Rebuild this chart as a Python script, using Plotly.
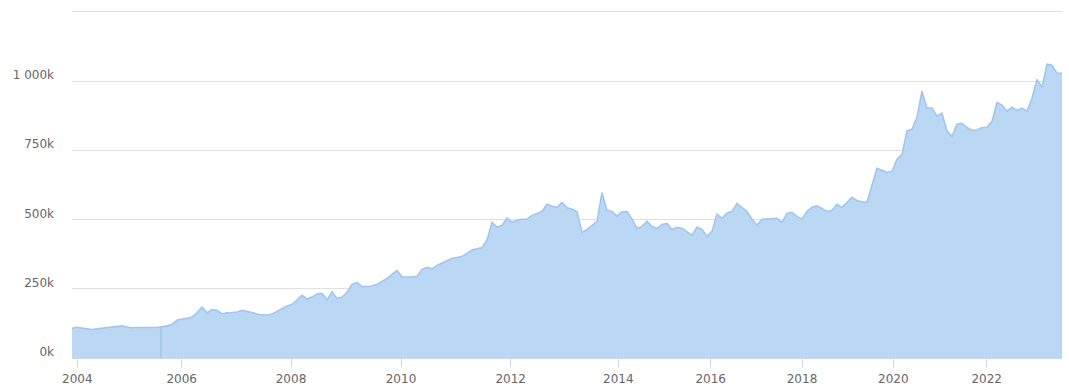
import plotly.graph_objects as go
import numpy as np

# Values (in units) sampled at equal ordinal steps along the series
values_k = [
    107, 111, 108, 106, 103, 105, 107, 108, 110, 112,
    116, 112, 109, 110, 110, 108, 108, 110, 114, 116,
    121, 136, 141, 143, 148, 163, 184, 163, 175, 172,
    159, 163, 164, 166, 172, 169, 164, 159, 155, 155,
    159, 168, 179, 188, 193, 211, 226, 213, 220, 231,
    233, 210, 239, 215, 220, 237, 266, 273, 258, 258,
    260, 266, 276, 287, 302, 316, 293, 293, 292, 295,
    320, 327, 322, 334, 342, 349, 360, 363, 367, 378,
    390, 394, 399, 425, 490, 472, 479, 506, 490, 497,
    501, 501, 515, 522, 529, 555, 548, 544, 562, 542,
    538, 528, 454, 464, 479, 493, 597, 533, 529, 512,
    528, 529, 501, 468, 475, 493, 475, 468, 482, 486,
    464, 472, 468, 457, 443, 473, 464, 439, 457, 519,
    504, 524, 529, 558, 542, 529, 501, 479, 501, 502,
    504, 504, 490, 522, 526, 511, 501, 529, 544, 549,
    540, 529, 533, 555, 544, 562, 580, 569, 564, 562,
    623, 685, 678, 670, 674, 717, 735, 820, 826, 869,
    963, 902, 902, 873, 884, 819, 800, 844, 847, 832,
    822, 822, 832, 833, 855, 923, 913, 891, 905, 894,
    902, 891, 938, 1006, 978, 1061, 1057, 1028, 1028,
]
values = [v * 1000 for v in values_k]

# Ordinal position where each labelled year begins
years = ["2004", "2006", "2008", "2010", "2012", "2014", "2016", "2018", "2020", "2022"]
year_pos = [1.06, 21.94, 43.8, 65.8, 87.74, 109.26, 127.74, 146.0, 164.26, 182.94]

# A single zero-valued observation (drawn as a thin drop line)
zero_pos = 17.8

y_ticks = [0, 250000, 500000, 750000, 1000000, 1250000]
y_labels = ["0k", "250k", "500k", "750k", "1 000k", ""]

xs = np.arange(len(values))

fill_col = "#bad7f3"
line_col = "#a2c6ee"

fig = go.Figure()
fig.add_trace(go.Scatter(
    x=xs, y=values, mode="lines", fill="tozeroy",
    fillcolor=fill_col, line=dict(color=line_col, width=1.6),
    hoverinfo="skip", showlegend=False,
))
zv = float(np.interp(zero_pos, xs, values))
fig.add_trace(go.Scatter(
    x=[zero_pos, zero_pos], y=[0, zv], mode="lines",
    line=dict(color=line_col, width=1.6), hoverinfo="skip", showlegend=False,
))

fig.update_layout(
    width=1069, height=387,
    margin=dict(l=72, r=7, t=9, b=29, autoexpand=False),
    paper_bgcolor="white", plot_bgcolor="white",
    font=dict(family="DejaVu Sans", size=12, color="#666666"),
    xaxis=dict(
        range=[0, len(values) - 1], tickvals=year_pos, ticktext=years,
        showgrid=False, zeroline=False, ticks="outside", ticklen=8,
        tickcolor="#ccd6eb", tickwidth=1, showline=True, linecolor="#ccd6eb",
        ticklabelstandoff=2, automargin=False,
        tickfont=dict(size=12, color="#666666"),
    ),
    yaxis=dict(
        range=[0, 1260000], tickvals=y_ticks, ticktext=y_labels,
        showgrid=True, gridcolor="#e0e0e0", gridwidth=1, zeroline=False,
        ticks="", ticklabelstandoff=17, ticklabelshift=-6, automargin=False,
        tickfont=dict(size=12, color="#666666"),
    ),
)

fig.write_html("out.html")
